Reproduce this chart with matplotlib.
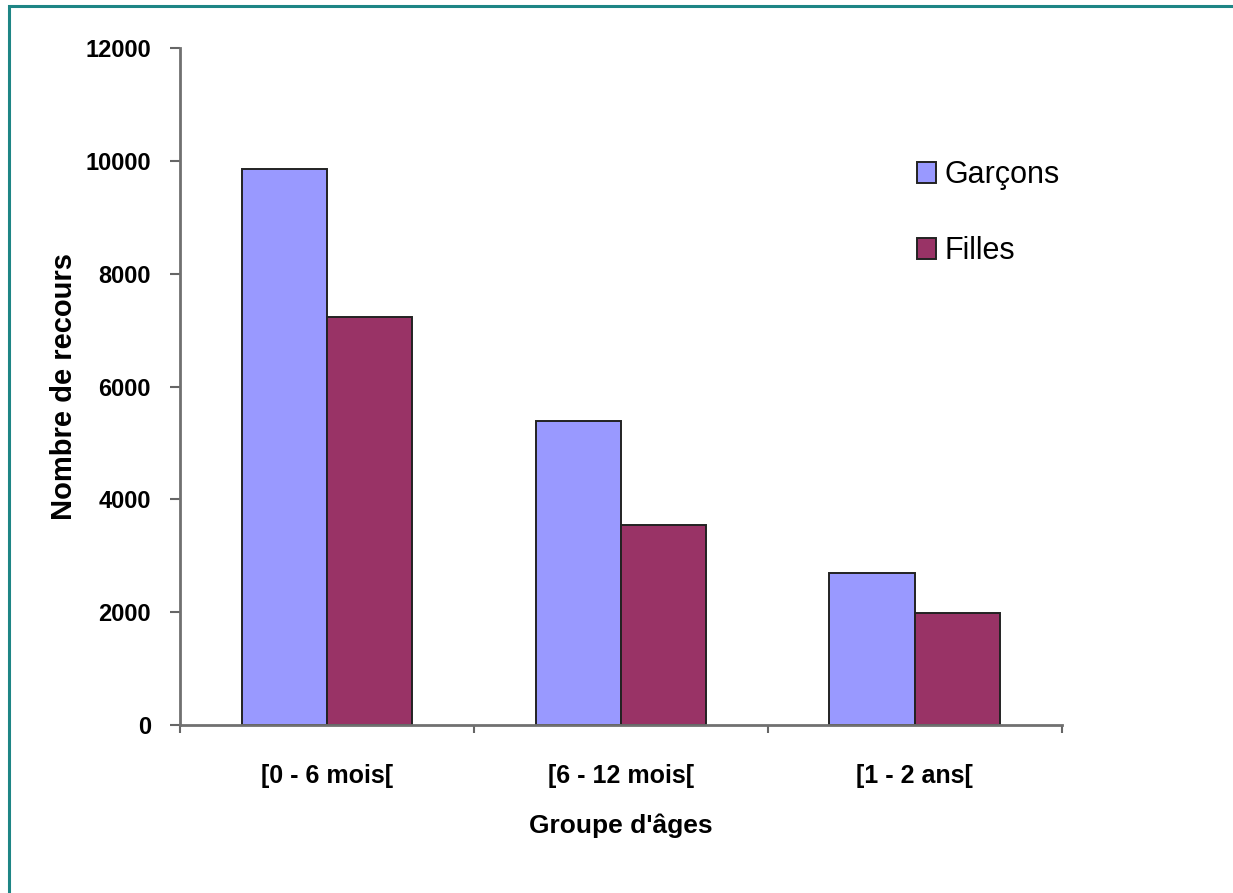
import numpy as np
import matplotlib
matplotlib.use("Agg")
import matplotlib.pyplot as plt
from matplotlib.patches import Rectangle

# recours par tranche d'âge et par sexe
groupes = ["[0 - 6 mois[", "[6 - 12 mois[", "[1 - 2 ans["]
garcons = [9850, 5400, 2700]
filles = [7240, 3550, 1990]

COL_G, COL_F = "#9999FF", "#993366"
NARROW = ["Liberation Sans Narrow", "Liberation Sans", "DejaVu Sans"]

fig = plt.figure(figsize=(12.33, 8.93), dpi=100)
ax = fig.add_axes([0.146, 0.188, 0.715, 0.758])

x = np.arange(len(groupes))
w = 0.29
ax.bar(x - w / 2, garcons, w, color=COL_G, edgecolor="#222222", linewidth=1.4, label="Garçons")
ax.bar(x + w / 2, filles, w, color=COL_F, edgecolor="#222222", linewidth=1.4, label="Filles")

ax.set_xlim(-0.5, len(groupes) - 0.5)
ax.set_ylim(0, 12000)
ax.set_yticks(np.arange(0, 12001, 2000))
ax.set_yticklabels([f"{v}" for v in range(0, 12001, 2000)],
                   family=NARROW, fontweight="bold", fontsize=17)
ax.set_xticks(x)
ax.set_xticklabels(groupes, family=NARROW, fontweight="bold", fontsize=18)
ax.set_xticks(np.arange(-0.5, len(groupes), 1.0), minor=True)
ax.tick_params(axis="x", which="major", length=0, pad=28)
ax.tick_params(axis="x", which="minor", length=6, width=1.5, color="#666666", direction="out")
ax.tick_params(axis="y", length=7, width=1.5, color="#666666", pad=14)

for s in ("top", "right"):
    ax.spines[s].set_visible(False)
for s in ("left", "bottom"):
    ax.spines[s].set_color("#707070")
    ax.spines[s].set_linewidth(2)

ax.set_ylabel("Nombre de recours", fontweight="bold", fontsize=21,
              family=["Liberation Sans", "DejaVu Sans"], labelpad=5)
ax.set_xlabel("Groupe d'âges", family=NARROW, fontweight="bold", fontsize=19, labelpad=18)

leg = ax.legend(loc="upper left", bbox_to_anchor=(0.805, 0.875), frameon=False,
                prop={"family": NARROW, "size": 22}, handlelength=0.6, handleheight=0.7,
                handletextpad=0.3, labelspacing=1.5)

# cadre du document
fig.add_artist(Rectangle((0.0073, -0.1), 1.2, 0.9933 + 0.1, transform=fig.transFigure,
                         fill=False, edgecolor="#1E8585", linewidth=2.2))

fig.savefig("out.png", dpi=100)
